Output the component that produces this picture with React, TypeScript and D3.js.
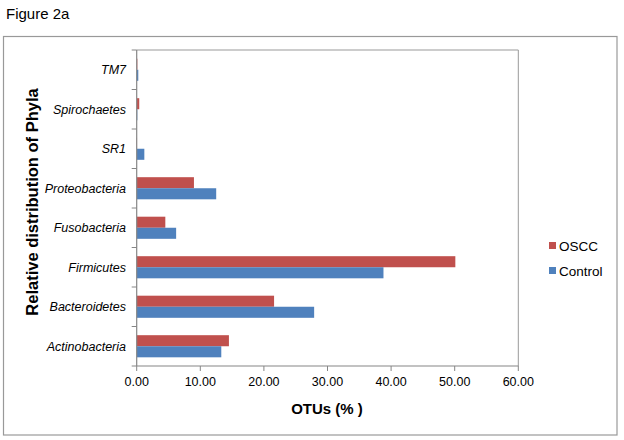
import React from "react";
import * as d3 from "d3";

const categories = ["Actinobacteria", "Bacteroidetes", "Firmicutes", "Fusobacteria", "Proteobacteria", "SR1", "Spirochaetes", "TM7"];
const osccValues = [14.5, 21.6, 50.1, 4.5, 9.0, 0.05, 0.4, 0.1];
const controlValues = [13.3, 27.9, 38.8, 6.2, 12.5, 1.2, 0.1, 0.25];
const seriesNames = ["OSCC", "Control"];
const seriesColors = ["#C0504D", "#4F81BD"];
const xTicks = [0, 10, 20, 30, 40, 50, 60];

export default function App() {
  const W = 624, H = 440;
  const left = 136.7, right = 518.3, top = 50, bottom = 366;
  const x = d3.scaleLinear().domain([0, 60]).range([left, right]);
  const y = d3.scaleBand<string>().domain([...categories].reverse()).range([top, bottom]).paddingInner(0).paddingOuter(0);
  const step = y.bandwidth();
  const groupPad = 0.22;
  const sub = d3.scaleBand<string>().domain(seriesNames).range([step * groupPad, step * (1 - groupPad)]);
  const series = [osccValues, controlValues];
  const axisColor = "#868686";
  const font = "Arial, 'Liberation Sans', sans-serif";

  return (
    <svg width={W} height={H} style={{ position: "absolute", left: 0, top: 0, background: "#fff" }} fontFamily={font}>
      <text x={6} y={19} fontSize={15} fill="#000">Figure 2a</text>
      <rect x={3.5} y={36.5} width={613.5} height={398.5} fill="none" stroke="#999" strokeWidth={1.2} />
      <line x1={left} x2={right} y1={top} y2={top} stroke="#999" />
      <line x1={right} x2={right} y1={top} y2={bottom} stroke="#999" />
      {categories.map((c, i) => (
        <g key={c} transform={`translate(0,${y(c)})`}>
          {series.map((vals, s) => (
            <rect key={s} x={x(0)} y={sub(seriesNames[s])} width={x(vals[i]) - x(0)} height={sub.bandwidth()} fill={seriesColors[s]} />
          ))}
        </g>
      ))}
      <line x1={left} x2={left} y1={top} y2={bottom} stroke={axisColor} strokeWidth={1.2} />
      {d3.range(categories.length + 1).map((k) => {
        const yy = top + k * step;
        return <line key={k} x1={left - 5} x2={left} y1={yy} y2={yy} stroke={axisColor} />;
      })}
      {categories.map((c) => (
        <text key={c} x={126} y={(y(c) as number) + step / 2} dy="0.35em" textAnchor="end" fontSize={12.5} fontStyle="italic" fill="#000">{c}</text>
      ))}
      <line x1={left} x2={right} y1={bottom} y2={bottom} stroke={axisColor} strokeWidth={1.2} />
      {xTicks.map((t) => (
        <g key={t}>
          <line x1={x(t)} x2={x(t)} y1={bottom} y2={bottom + 5} stroke={axisColor} />
          <text x={x(t)} y={bottom + 20} textAnchor="middle" fontSize={12.5} fill="#000">{t.toFixed(2)}</text>
        </g>
      ))}
      <text x={327} y={414} textAnchor="middle" fontSize={15} fontWeight="bold" fill="#000">OTUs (% )</text>
      <text transform={`translate(38,${202}) rotate(-90)`} textAnchor="middle" fontSize={16.5} fontWeight="bold" fill="#000">Relative distribution of Phyla</text>
      {seriesNames.map((n, s) => (
        <g key={n} transform={`translate(549,${246 + s * 25})`}>
          <rect x={0} y={-4} width={7} height={7} fill={seriesColors[s]} />
          <text x={10} y={0} dy="0.35em" fontSize={13.5} fill="#000">{n}</text>
        </g>
      ))}
    </svg>
  );
}
